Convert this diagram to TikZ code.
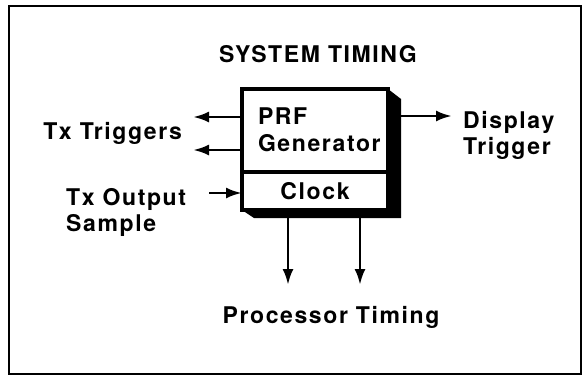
\documentclass[tikz,border=0pt]{standalone}
\usepackage{fontspec}
\setmainfont{TeX Gyre Heros}[LetterSpace=7]
\usetikzlibrary{arrows.meta,backgrounds}
\begin{document}
\begin{tikzpicture}[
                      x=1pt, y=-1pt,
                      font=\bfseries\fontsize{23}{26.5}\selectfont,
                      blockpart/.style = {rectangle, draw, line width=3.2pt, fill=white, minimum width=146pt, inner sep=0pt, outer sep=0pt},
                      sigline/.style = {line width=2.8pt, -{Latex[length=16pt,width=11pt]}},
                      lbl/.style = {inner sep=0pt, align=left}
                  ]
                  \useasboundingbox (0,0) rectangle (583,378);
                  \draw[line width=2.2pt] (9,6) rectangle (581,374);
                  \node[blockpart, anchor=north west, text width=114pt, align=left, inner xsep=16pt, text height=35pt, text depth=48pt] (prf) at (242,89) {PRF\\[1pt]Generator};
                  \node[blockpart, anchor=north, minimum height=38pt] (clock) at (prf.south) {Clock};
                  \begin{scope}[on background layer]
                      \fill (prf.north east) -- ++(13,10) -- ([shift={(13,8)}]clock.south east) -- ([shift={(12,8)}]clock.south west) -- (clock.south west) -- (clock.south east) -- cycle;
                  \end{scope}
                  \node[lbl, anchor=base] (title) at (318,62) {SYSTEM TIMING};
                  \node[lbl, anchor=base east] (trigtxt) at (182,139) {Tx Triggers};
                  \node[lbl, anchor=base west] (smpltxt) at (66,231.5) {Tx Output\\Sample};
                  \node[lbl, anchor=base west] (disptxt) at (463,154.5) {Display\\Trigger};
                  \node[lbl, anchor=base] (proctxt) at (331,323) {Processor Timing};
                  \coordinate (trigA) at (193,117);
                  \coordinate (trigB) at (193,150);
                  \coordinate (smpl) at (209,193);
                  \coordinate (disp) at (452,116);
                  \coordinate (procA) at (288,285);
                  \coordinate (procB) at (360,285);
                  \draw[sigline] (prf.west |- trigA) -- (trigA);
                  \draw[sigline] (prf.west |- trigB) -- (trigB);
                  \draw[sigline] (smpl) -- (smpl -| clock.west);
                  \draw[sigline] (prf.east |- disp) -- (disp);
                  \draw[sigline] (clock.south -| procA) -- (procA);
                  \draw[sigline] (clock.south -| procB) -- (procB);
              \end{tikzpicture}
\end{document}
